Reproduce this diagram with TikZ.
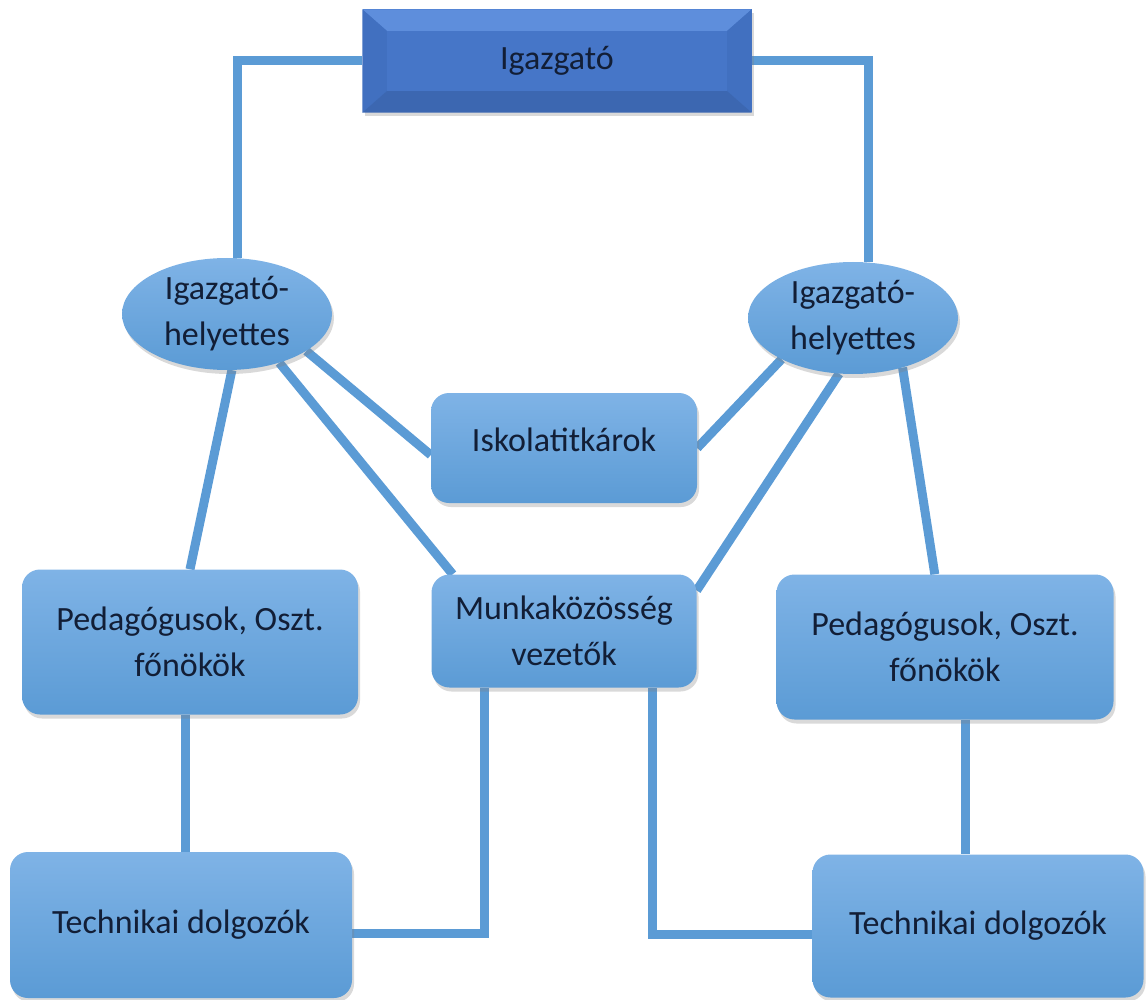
\documentclass[tikz,border=0pt]{standalone}
\usepackage{fontspec}
\setmainfont{Carlito}
\usetikzlibrary{shapes.geometric,shadows,backgrounds,calc}
\definecolor{kek}{HTML}{5B9BD5}
\definecolor{kekfel}{HTML}{7FB3E6}
\definecolor{sotet}{HTML}{4676C8}
\definecolor{sotetfel}{HTML}{5E8EDC}
\definecolor{sotetle}{HTML}{4170C0}
\definecolor{betu}{HTML}{121E36}
\begin{document}
\begin{tikzpicture}[x=1pt,y=-1pt,
  alap/.style={text=betu,align=center,inner sep=0pt,font=\fontsize{34}{46}\selectfont,
    drop shadow={shadow xshift=2pt,shadow yshift=-4pt,opacity=.3}},
  doboz/.style={alap,rectangle,rounded corners=18pt,top color=kekfel,bottom color=kek},
  tojas/.style={alap,ellipse,top color=kekfel,bottom color=kek},
  fonok/.style={alap,rectangle,fill=sotet},
  vonal/.style={draw=kek,line width=9pt}]
\useasboundingbox (0,0) rectangle (1148,1000);
\node[fonok, minimum width=389, minimum height=103] (I) at (557,61) {};
\fill[sotetfel] (I.north west) -- (I.north east) -- ($(I.north east)+(-25,22)$) -- ($(I.north west)+(25,22)$) -- cycle;
\fill[sotetle] (I.north west) -- ($(I.north west)+(25,22)$) -- ($(I.south west)+(25,-22)$) -- (I.south west) -- cycle;
\fill[sotetle] (I.north east) -- ($(I.north east)+(-25,22)$) -- ($(I.south east)+(-25,-22)$) -- (I.south east) -- cycle;
\fill[sotetle!92!black] (I.south west) -- ($(I.south west)+(25,-22)$) -- ($(I.south east)+(-25,-22)$) -- (I.south east) -- cycle;
\fill[sotet] ($(I.north west)+(25,22)$) rectangle ($(I.south east)+(-25,-22)$);
\node[text=betu,font=\fontsize{34}{46}\selectfont] at (I) {Igazgató};
\node[tojas, minimum width=210, minimum height=112] (H1) at (227,314) {Igazgató-\\helyettes};
\node[tojas, minimum width=210, minimum height=112] (H2) at (853,318) {Igazgató-\\helyettes};
\node[doboz, minimum width=266, minimum height=110, text depth=16pt] (T) at (564,448) {Iskolatitkárok};
\node[doboz, minimum width=336, minimum height=145] (P1) at (190,642) {Pedagógusok, Oszt.\\főnökök};
\node[doboz, minimum width=265, minimum height=113] (M) at (564,631) {Munkaközösség\\vezetők};
\node[doboz, minimum width=337, minimum height=145] (P2) at (945,647) {Pedagógusok, Oszt.\\főnökök};
\node[doboz, minimum width=342, minimum height=146] (D1) at (181,925) {Technikai dolgozók};
\node[doboz, minimum width=331, minimum height=143] (D2) at (978,926) {Technikai dolgozók};
\begin{scope}[on background layer]
\draw[vonal] (I.west) -| ([xshift=10]H1.north);
\draw[vonal] (I.east) -| ([xshift=15]H2.north);
\draw[vonal] (H1.-85) -- (P1.north);
\draw[vonal] (H1.-43) -- (M.153);
\draw[vonal] (H1.-25) -- (T.183);
\draw[vonal] (H2.-150) -- (T.east);
\draw[vonal] (H2.-104) -- (M.17);
\draw[vonal] (H2.-45) -- (P2.98);
\draw[vonal] ([xshift=-5]P1.south) -- ([xshift=-5]P1.south |- D1.north);
\draw[vonal] (D1.-3) -| ([xshift=-80]M.south);
\draw[vonal] ([xshift=88]M.south) |- (D2.183);
\draw[vonal] ([xshift=20]P2.south) -- ([xshift=20]P2.south |- D2.north);
\end{scope}
\end{tikzpicture}
\end{document}
